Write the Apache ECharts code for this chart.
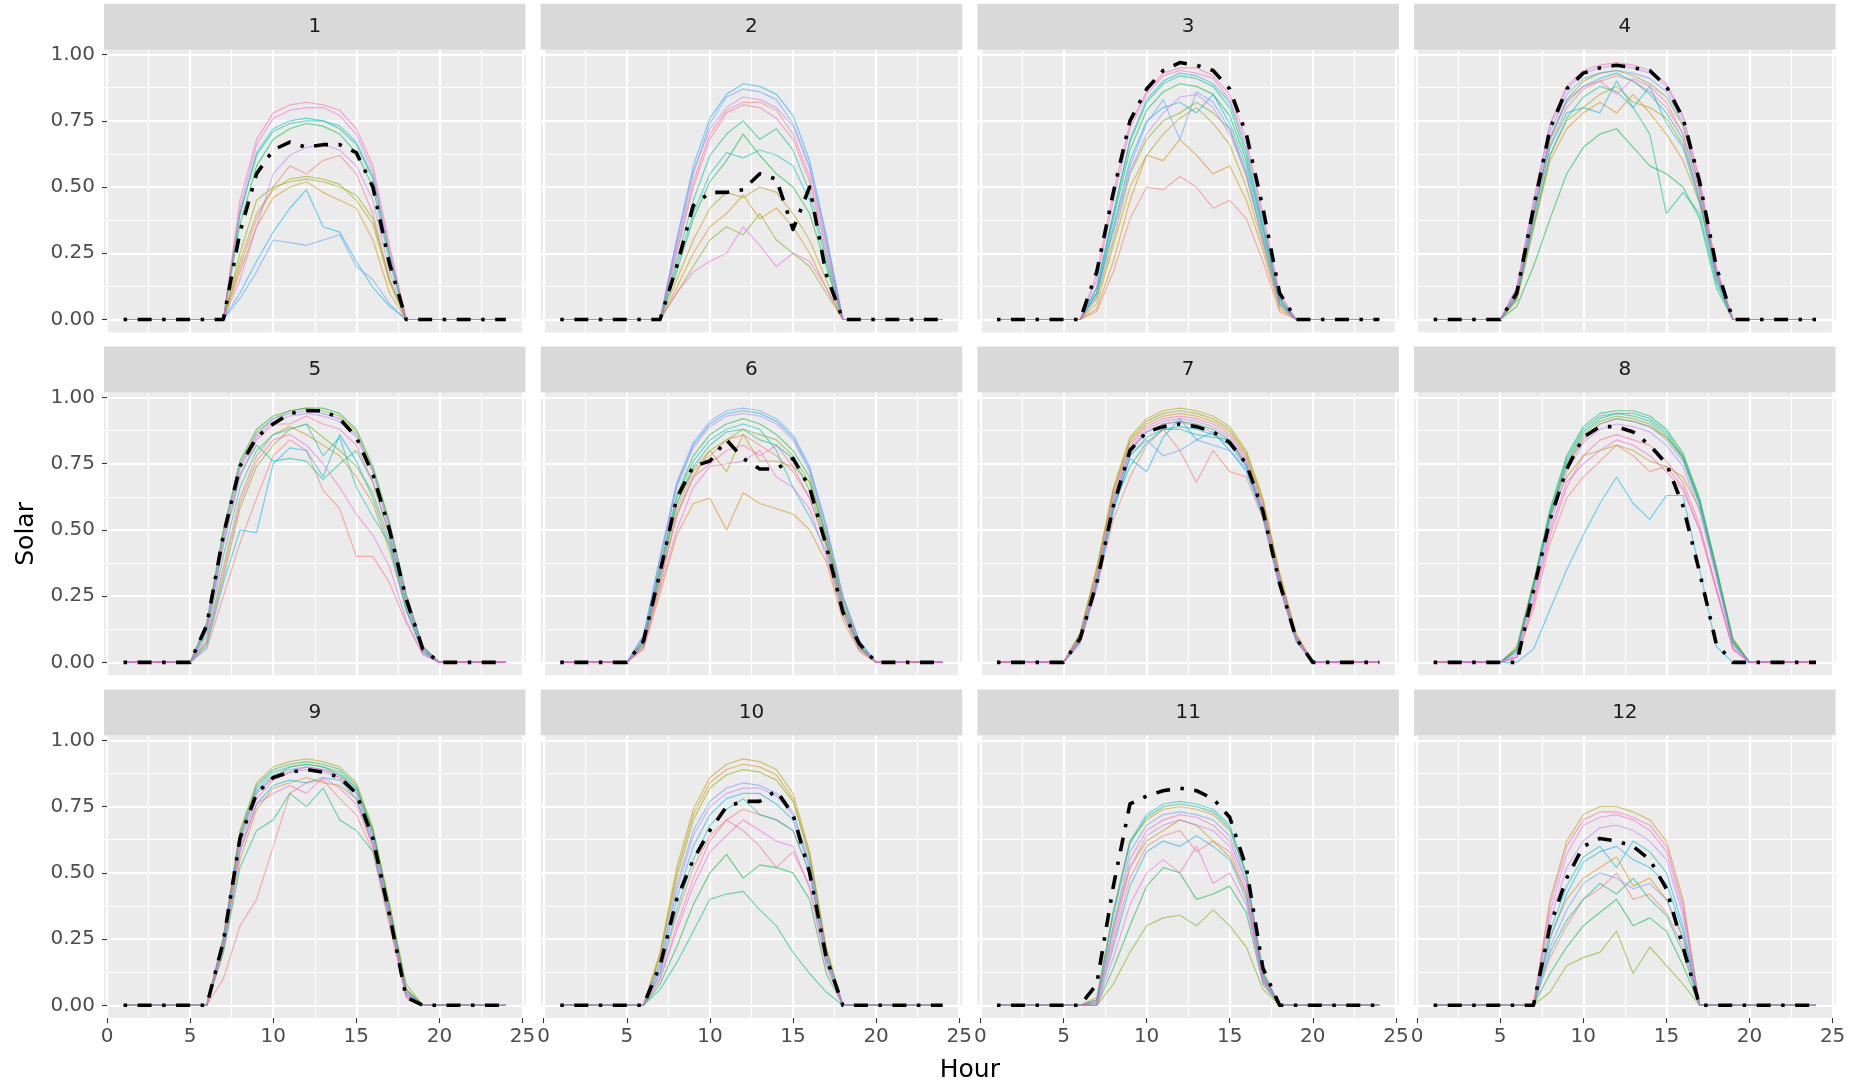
<!DOCTYPE html>
<html>
<head>
<meta charset="utf-8">
<title>Solar by hour, per month</title>
<script src="https://cdn.jsdelivr.net/npm/echarts/dist/echarts.min.js"></script>
<style>
	html, body { margin: 0; padding: 0; background: #ffffff; }
	#chart { width: 1854px; height: 1086px; }
</style>
</head>
<body>
<div id="chart"></div>
<script>
// facet labels and the hour axis
var months = ["1", "2", "3", "4", "5", "6", "7", "8", "9", "10", "11", "12"];
var hours = [1, 2, 3, 4, 5, 6, 7, 8, 9, 10, 11, 12, 13, 14, 15, 16, 17, 18, 19, 20, 21, 22, 23, 24];
var xTicks = [0, 5, 10, 15, 20, 25];
var yTicks = [0, 0.25, 0.5, 0.75, 1];

// first hour of the daylight stretch stored below, per month (solar is 0 outside it)
var dayStart = [7, 7, 6, 5, 5, 5, 5, 5, 6, 6, 6, 7];

// dash-dot line: monthly mean profile
var meanJan = [0, 0.33, 0.55, 0.64, 0.67, 0.65, 0.66, 0.66, 0.63, 0.50, 0.21, 0];
var meanFeb = [0, 0.20, 0.43, 0.48, 0.48, 0.49, 0.55, 0.53, 0.34, 0.50, 0.17, 0];
var meanMar = [0, 0.18, 0.48, 0.75, 0.87, 0.94, 0.97, 0.96, 0.94, 0.87, 0.70, 0.42, 0.10, 0];
var meanApr = [0, 0.10, 0.42, 0.72, 0.87, 0.93, 0.95, 0.96, 0.95, 0.94, 0.88, 0.76, 0.52, 0.20, 0];
var meanMay = [0, 0.14, 0.48, 0.74, 0.85, 0.90, 0.94, 0.95, 0.95, 0.92, 0.85, 0.71, 0.50, 0.24, 0.05, 0];
var meanJun = [0, 0.08, 0.34, 0.62, 0.74, 0.76, 0.84, 0.77, 0.73, 0.73, 0.77, 0.66, 0.44, 0.19, 0.07, 0];
var meanJul = [0, 0.09, 0.30, 0.59, 0.80, 0.87, 0.89, 0.90, 0.89, 0.87, 0.83, 0.75, 0.57, 0.30, 0.09, 0];
var meanAug = [0, 0, 0.27, 0.54, 0.73, 0.85, 0.89, 0.89, 0.87, 0.82, 0.75, 0.59, 0.34, 0.07, 0, 0];
var meanSep = [0, 0.24, 0.63, 0.80, 0.86, 0.88, 0.89, 0.88, 0.86, 0.80, 0.63, 0.34, 0.03, 0];
var meanOct = [0, 0.15, 0.40, 0.55, 0.66, 0.75, 0.77, 0.77, 0.81, 0.72, 0.50, 0.18, 0];
var meanNov = [0, 0.08, 0.45, 0.76, 0.79, 0.81, 0.82, 0.81, 0.78, 0.71, 0.52, 0.14, 0];
var meanDec = [0, 0.30, 0.48, 0.60, 0.63, 0.62, 0.60, 0.55, 0.44, 0.22, 0];

// thin lines: one profile per year, same year order in every month
var yearsJan = [
	[0, 0.20, 0.38, 0.50, 0.58, 0.55, 0.60, 0.62, 0.55, 0.40, 0.15, 0],
	[0, 0.18, 0.35, 0.46, 0.50, 0.52, 0.48, 0.45, 0.42, 0.30, 0.10, 0],
	[0, 0.22, 0.40, 0.49, 0.53, 0.54, 0.53, 0.51, 0.45, 0.36, 0.14, 0],
	[0, 0.25, 0.45, 0.50, 0.52, 0.53, 0.52, 0.50, 0.47, 0.38, 0.15, 0],
	[0, 0.36, 0.58, 0.68, 0.72, 0.74, 0.73, 0.70, 0.63, 0.50, 0.22, 0],
	[0, 0.40, 0.62, 0.71, 0.74, 0.75, 0.75, 0.72, 0.66, 0.53, 0.24, 0],
	[0, 0.40, 0.63, 0.72, 0.75, 0.76, 0.75, 0.73, 0.67, 0.54, 0.25, 0],
	[0, 0.10, 0.22, 0.33, 0.42, 0.49, 0.35, 0.33, 0.22, 0.12, 0.05, 0],
	[0, 0.08, 0.18, 0.30, 0.29, 0.28, 0.30, 0.32, 0.20, 0.15, 0.06, 0],
	[0, 0.15, 0.35, 0.55, 0.62, 0.65, 0.66, 0.64, 0.58, 0.45, 0.18, 0],
	[0, 0.42, 0.66, 0.76, 0.79, 0.80, 0.80, 0.77, 0.70, 0.56, 0.26, 0],
	[0, 0.45, 0.68, 0.78, 0.81, 0.82, 0.81, 0.79, 0.72, 0.58, 0.28, 0]
];
var yearsFeb = [
	[0, 0.26, 0.52, 0.70, 0.79, 0.82, 0.82, 0.79, 0.70, 0.54, 0.28, 0],
	[0, 0.12, 0.25, 0.35, 0.40, 0.47, 0.38, 0.42, 0.35, 0.25, 0.12, 0],
	[0, 0.15, 0.30, 0.42, 0.48, 0.46, 0.50, 0.48, 0.40, 0.30, 0.15, 0],
	[0, 0.10, 0.20, 0.30, 0.35, 0.32, 0.40, 0.30, 0.25, 0.20, 0.10, 0],
	[0, 0.18, 0.38, 0.52, 0.60, 0.70, 0.62, 0.55, 0.50, 0.40, 0.20, 0],
	[0, 0.22, 0.45, 0.62, 0.70, 0.75, 0.68, 0.72, 0.64, 0.48, 0.24, 0],
	[0, 0.20, 0.40, 0.55, 0.63, 0.61, 0.64, 0.62, 0.58, 0.45, 0.22, 0],
	[0, 0.30, 0.58, 0.76, 0.85, 0.89, 0.88, 0.85, 0.77, 0.60, 0.32, 0],
	[0, 0.28, 0.55, 0.74, 0.84, 0.87, 0.86, 0.83, 0.74, 0.58, 0.30, 0],
	[0, 0.30, 0.56, 0.72, 0.80, 0.84, 0.83, 0.80, 0.73, 0.57, 0.30, 0],
	[0, 0.10, 0.18, 0.22, 0.25, 0.35, 0.28, 0.20, 0.25, 0.22, 0.12, 0],
	[0, 0.25, 0.50, 0.68, 0.78, 0.81, 0.80, 0.76, 0.68, 0.52, 0.26, 0]
];
var yearsMar = [
	[0, 0.03, 0.18, 0.38, 0.50, 0.49, 0.54, 0.50, 0.42, 0.45, 0.38, 0.22, 0.03, 0],
	[0, 0.04, 0.22, 0.45, 0.62, 0.60, 0.68, 0.62, 0.55, 0.58, 0.45, 0.26, 0.04, 0],
	[0, 0.06, 0.28, 0.50, 0.62, 0.70, 0.76, 0.80, 0.74, 0.66, 0.50, 0.28, 0.05, 0],
	[0, 0.08, 0.30, 0.55, 0.68, 0.75, 0.78, 0.82, 0.78, 0.72, 0.54, 0.30, 0.06, 0],
	[0, 0.10, 0.38, 0.64, 0.79, 0.86, 0.89, 0.88, 0.85, 0.77, 0.60, 0.34, 0.07, 0],
	[0, 0.12, 0.40, 0.67, 0.82, 0.89, 0.92, 0.91, 0.88, 0.80, 0.62, 0.35, 0.08, 0],
	[0, 0.12, 0.40, 0.68, 0.83, 0.90, 0.93, 0.92, 0.89, 0.82, 0.64, 0.36, 0.08, 0],
	[0, 0.10, 0.35, 0.60, 0.75, 0.80, 0.82, 0.78, 0.85, 0.74, 0.58, 0.32, 0.06, 0],
	[0, 0.10, 0.34, 0.58, 0.74, 0.83, 0.68, 0.86, 0.82, 0.72, 0.56, 0.30, 0.06, 0],
	[0, 0.09, 0.33, 0.56, 0.70, 0.78, 0.84, 0.85, 0.80, 0.70, 0.55, 0.30, 0.06, 0],
	[0, 0.15, 0.45, 0.72, 0.85, 0.92, 0.94, 0.93, 0.91, 0.83, 0.66, 0.38, 0.09, 0],
	[0, 0.17, 0.48, 0.74, 0.86, 0.93, 0.95, 0.95, 0.92, 0.85, 0.68, 0.40, 0.10, 0]
];
var yearsApr = [
	[0, 0.08, 0.38, 0.66, 0.80, 0.87, 0.90, 0.92, 0.90, 0.86, 0.80, 0.70, 0.48, 0.18, 0],
	[0, 0.07, 0.34, 0.60, 0.72, 0.78, 0.82, 0.78, 0.85, 0.78, 0.70, 0.60, 0.44, 0.18, 0],
	[0, 0.08, 0.36, 0.62, 0.75, 0.80, 0.85, 0.88, 0.82, 0.80, 0.76, 0.66, 0.46, 0.17, 0],
	[0, 0.09, 0.40, 0.68, 0.83, 0.90, 0.93, 0.94, 0.92, 0.89, 0.84, 0.73, 0.50, 0.19, 0],
	[0, 0.05, 0.20, 0.38, 0.55, 0.65, 0.70, 0.72, 0.65, 0.58, 0.55, 0.50, 0.38, 0.12, 0],
	[0, 0.08, 0.35, 0.62, 0.76, 0.84, 0.88, 0.86, 0.80, 0.70, 0.40, 0.48, 0.40, 0.14, 0],
	[0, 0.10, 0.40, 0.68, 0.82, 0.88, 0.91, 0.93, 0.90, 0.85, 0.78, 0.68, 0.45, 0.16, 0],
	[0, 0.09, 0.38, 0.65, 0.78, 0.80, 0.78, 0.90, 0.80, 0.88, 0.74, 0.65, 0.44, 0.15, 0],
	[0, 0.11, 0.42, 0.71, 0.85, 0.91, 0.93, 0.94, 0.93, 0.91, 0.86, 0.74, 0.50, 0.18, 0],
	[0, 0.12, 0.44, 0.73, 0.87, 0.93, 0.95, 0.96, 0.95, 0.93, 0.88, 0.76, 0.52, 0.19, 0],
	[0, 0.10, 0.40, 0.69, 0.83, 0.88, 0.90, 0.85, 0.91, 0.88, 0.82, 0.70, 0.48, 0.17, 0],
	[0, 0.12, 0.45, 0.74, 0.88, 0.94, 0.96, 0.97, 0.96, 0.94, 0.89, 0.77, 0.53, 0.20, 0]
];
var yearsMay = [
	[0, 0.05, 0.25, 0.45, 0.62, 0.78, 0.84, 0.80, 0.65, 0.58, 0.40, 0.40, 0.30, 0.15, 0.03, 0],
	[0, 0.08, 0.36, 0.62, 0.78, 0.86, 0.89, 0.86, 0.82, 0.78, 0.70, 0.60, 0.42, 0.20, 0.04, 0],
	[0, 0.14, 0.49, 0.75, 0.87, 0.92, 0.95, 0.96, 0.95, 0.93, 0.87, 0.73, 0.52, 0.25, 0.06, 0],
	[0, 0.07, 0.32, 0.58, 0.74, 0.82, 0.88, 0.90, 0.85, 0.80, 0.74, 0.64, 0.46, 0.22, 0.05, 0],
	[0, 0.15, 0.50, 0.76, 0.88, 0.93, 0.95, 0.96, 0.96, 0.94, 0.88, 0.74, 0.53, 0.26, 0.06, 0],
	[0, 0.12, 0.45, 0.71, 0.82, 0.76, 0.77, 0.76, 0.69, 0.75, 0.80, 0.68, 0.48, 0.23, 0.05, 0],
	[0, 0.10, 0.40, 0.66, 0.80, 0.86, 0.88, 0.90, 0.78, 0.85, 0.66, 0.55, 0.45, 0.20, 0.04, 0],
	[0, 0.06, 0.30, 0.50, 0.49, 0.75, 0.81, 0.80, 0.70, 0.86, 0.76, 0.62, 0.44, 0.20, 0.04, 0],
	[0, 0.14, 0.48, 0.74, 0.86, 0.92, 0.94, 0.95, 0.94, 0.92, 0.86, 0.72, 0.51, 0.25, 0.06, 0],
	[0, 0.13, 0.47, 0.73, 0.85, 0.91, 0.93, 0.94, 0.93, 0.91, 0.85, 0.72, 0.50, 0.24, 0.05, 0],
	[0, 0.08, 0.34, 0.60, 0.76, 0.84, 0.86, 0.82, 0.75, 0.66, 0.56, 0.48, 0.36, 0.16, 0.03, 0],
	[0, 0.12, 0.44, 0.70, 0.84, 0.90, 0.90, 0.93, 0.90, 0.88, 0.82, 0.68, 0.48, 0.22, 0.05, 0]
];
var yearsJun = [
	[0, 0.07, 0.32, 0.58, 0.72, 0.78, 0.84, 0.86, 0.82, 0.78, 0.72, 0.62, 0.44, 0.20, 0.05, 0],
	[0, 0.05, 0.26, 0.48, 0.60, 0.62, 0.50, 0.64, 0.60, 0.58, 0.56, 0.50, 0.38, 0.16, 0.04, 0],
	[0, 0.08, 0.34, 0.60, 0.73, 0.80, 0.72, 0.86, 0.76, 0.76, 0.74, 0.68, 0.48, 0.24, 0.07, 0],
	[0, 0.06, 0.30, 0.56, 0.70, 0.80, 0.84, 0.88, 0.86, 0.84, 0.78, 0.68, 0.46, 0.22, 0.06, 0],
	[0, 0.08, 0.36, 0.63, 0.78, 0.86, 0.90, 0.92, 0.90, 0.86, 0.80, 0.70, 0.48, 0.22, 0.06, 0],
	[0, 0.07, 0.33, 0.60, 0.74, 0.82, 0.87, 0.88, 0.84, 0.82, 0.77, 0.65, 0.45, 0.20, 0.06, 0],
	[0, 0.08, 0.35, 0.62, 0.76, 0.84, 0.88, 0.90, 0.88, 0.80, 0.66, 0.55, 0.42, 0.18, 0.05, 0],
	[0, 0.10, 0.39, 0.67, 0.82, 0.90, 0.94, 0.95, 0.94, 0.91, 0.85, 0.73, 0.51, 0.25, 0.08, 0],
	[0, 0.10, 0.40, 0.68, 0.83, 0.91, 0.95, 0.96, 0.95, 0.92, 0.86, 0.74, 0.52, 0.25, 0.08, 0],
	[0, 0.09, 0.38, 0.66, 0.81, 0.89, 0.93, 0.94, 0.93, 0.90, 0.84, 0.72, 0.50, 0.24, 0.07, 0],
	[0, 0.05, 0.28, 0.50, 0.66, 0.74, 0.75, 0.76, 0.80, 0.70, 0.66, 0.58, 0.40, 0.18, 0.05, 0],
	[0, 0.06, 0.30, 0.55, 0.70, 0.75, 0.80, 0.82, 0.78, 0.82, 0.74, 0.62, 0.44, 0.20, 0.05, 0]
];
var yearsJul = [
	[0, 0.07, 0.28, 0.54, 0.70, 0.82, 0.88, 0.80, 0.68, 0.80, 0.72, 0.70, 0.54, 0.28, 0.08, 0],
	[0, 0.10, 0.34, 0.64, 0.83, 0.90, 0.93, 0.94, 0.93, 0.91, 0.87, 0.78, 0.60, 0.33, 0.10, 0],
	[0, 0.11, 0.36, 0.66, 0.85, 0.92, 0.95, 0.96, 0.95, 0.93, 0.89, 0.80, 0.62, 0.34, 0.11, 0],
	[0, 0.11, 0.35, 0.65, 0.84, 0.91, 0.94, 0.95, 0.94, 0.92, 0.88, 0.79, 0.61, 0.33, 0.10, 0],
	[0, 0.09, 0.31, 0.60, 0.80, 0.87, 0.90, 0.91, 0.90, 0.88, 0.84, 0.75, 0.57, 0.31, 0.09, 0],
	[0, 0.08, 0.30, 0.59, 0.74, 0.83, 0.88, 0.88, 0.86, 0.85, 0.84, 0.74, 0.56, 0.30, 0.09, 0],
	[0, 0.08, 0.30, 0.58, 0.78, 0.85, 0.88, 0.89, 0.88, 0.86, 0.82, 0.74, 0.56, 0.30, 0.09, 0],
	[0, 0.08, 0.29, 0.57, 0.77, 0.72, 0.85, 0.92, 0.84, 0.87, 0.80, 0.72, 0.55, 0.29, 0.08, 0],
	[0, 0.08, 0.30, 0.58, 0.78, 0.84, 0.78, 0.80, 0.84, 0.82, 0.80, 0.73, 0.56, 0.30, 0.09, 0],
	[0, 0.09, 0.32, 0.62, 0.81, 0.88, 0.91, 0.92, 0.91, 0.89, 0.85, 0.76, 0.58, 0.31, 0.09, 0],
	[0, 0.09, 0.31, 0.61, 0.80, 0.87, 0.90, 0.91, 0.89, 0.87, 0.83, 0.75, 0.57, 0.31, 0.09, 0],
	[0, 0.10, 0.33, 0.63, 0.82, 0.89, 0.92, 0.93, 0.92, 0.90, 0.86, 0.77, 0.59, 0.32, 0.10, 0]
];
var yearsAug = [
	[0, 0.02, 0.20, 0.45, 0.62, 0.70, 0.76, 0.82, 0.78, 0.72, 0.74, 0.66, 0.50, 0.27, 0.05, 0],
	[0, 0.06, 0.30, 0.56, 0.74, 0.84, 0.90, 0.92, 0.91, 0.89, 0.85, 0.77, 0.60, 0.35, 0.09, 0],
	[0, 0.05, 0.30, 0.55, 0.70, 0.78, 0.80, 0.82, 0.80, 0.76, 0.74, 0.70, 0.58, 0.34, 0.08, 0],
	[0, 0.05, 0.28, 0.55, 0.75, 0.86, 0.91, 0.93, 0.92, 0.90, 0.85, 0.78, 0.61, 0.36, 0.09, 0],
	[0, 0.05, 0.30, 0.58, 0.78, 0.89, 0.94, 0.95, 0.95, 0.93, 0.88, 0.79, 0.62, 0.36, 0.08, 0],
	[0, 0.04, 0.28, 0.56, 0.76, 0.87, 0.92, 0.94, 0.93, 0.91, 0.86, 0.77, 0.60, 0.34, 0.07, 0],
	[0, 0.05, 0.29, 0.57, 0.77, 0.88, 0.93, 0.94, 0.94, 0.92, 0.87, 0.78, 0.61, 0.35, 0.08, 0],
	[0, 0, 0.05, 0.20, 0.35, 0.48, 0.60, 0.70, 0.60, 0.54, 0.63, 0.63, 0.35, 0.06, 0, 0],
	[0, 0.04, 0.27, 0.54, 0.74, 0.85, 0.90, 0.92, 0.91, 0.89, 0.84, 0.76, 0.59, 0.33, 0.07, 0],
	[0, 0.03, 0.25, 0.52, 0.72, 0.83, 0.88, 0.90, 0.89, 0.87, 0.82, 0.74, 0.57, 0.32, 0.06, 0],
	[0, 0.02, 0.23, 0.50, 0.68, 0.75, 0.80, 0.84, 0.82, 0.78, 0.72, 0.65, 0.50, 0.28, 0.05, 0],
	[0, 0.02, 0.22, 0.48, 0.66, 0.78, 0.84, 0.86, 0.84, 0.82, 0.76, 0.68, 0.52, 0.28, 0.05, 0]
];
var yearsSep = [
	[0, 0.10, 0.30, 0.40, 0.60, 0.80, 0.84, 0.85, 0.78, 0.72, 0.58, 0.30, 0.03, 0],
	[0, 0.20, 0.55, 0.74, 0.82, 0.84, 0.86, 0.84, 0.83, 0.78, 0.60, 0.34, 0.06, 0],
	[0, 0.26, 0.66, 0.84, 0.90, 0.92, 0.93, 0.92, 0.90, 0.84, 0.67, 0.38, 0.06, 0],
	[0, 0.24, 0.63, 0.80, 0.86, 0.90, 0.91, 0.90, 0.87, 0.82, 0.66, 0.38, 0.08, 0],
	[0, 0.25, 0.65, 0.83, 0.89, 0.91, 0.92, 0.91, 0.89, 0.83, 0.66, 0.37, 0.06, 0],
	[0, 0.20, 0.52, 0.66, 0.70, 0.80, 0.75, 0.82, 0.70, 0.66, 0.58, 0.32, 0.04, 0],
	[0, 0.25, 0.64, 0.82, 0.88, 0.90, 0.91, 0.90, 0.88, 0.82, 0.65, 0.36, 0.05, 0],
	[0, 0.22, 0.58, 0.76, 0.83, 0.85, 0.84, 0.86, 0.85, 0.78, 0.61, 0.33, 0.04, 0],
	[0, 0.24, 0.63, 0.81, 0.87, 0.89, 0.90, 0.89, 0.87, 0.81, 0.64, 0.35, 0.05, 0],
	[0, 0.24, 0.62, 0.80, 0.86, 0.88, 0.89, 0.88, 0.86, 0.80, 0.63, 0.35, 0.04, 0],
	[0, 0.22, 0.58, 0.76, 0.80, 0.83, 0.80, 0.86, 0.82, 0.76, 0.60, 0.33, 0.04, 0],
	[0, 0.23, 0.60, 0.78, 0.85, 0.88, 0.90, 0.89, 0.86, 0.80, 0.62, 0.34, 0.03, 0]
];
var yearsOct = [
	[0, 0.12, 0.34, 0.52, 0.64, 0.70, 0.74, 0.72, 0.70, 0.66, 0.50, 0.18, 0],
	[0, 0.19, 0.50, 0.72, 0.84, 0.89, 0.91, 0.90, 0.87, 0.78, 0.57, 0.21, 0],
	[0, 0.20, 0.52, 0.74, 0.86, 0.91, 0.93, 0.92, 0.89, 0.80, 0.58, 0.22, 0],
	[0, 0.18, 0.48, 0.70, 0.82, 0.87, 0.89, 0.88, 0.85, 0.77, 0.56, 0.21, 0],
	[0, 0.08, 0.22, 0.38, 0.50, 0.57, 0.48, 0.53, 0.52, 0.50, 0.40, 0.12, 0],
	[0, 0.06, 0.16, 0.28, 0.40, 0.42, 0.43, 0.36, 0.30, 0.20, 0.12, 0.05, 0],
	[0, 0.12, 0.36, 0.55, 0.68, 0.74, 0.78, 0.72, 0.70, 0.66, 0.50, 0.17, 0],
	[0, 0.14, 0.40, 0.60, 0.72, 0.78, 0.80, 0.80, 0.76, 0.70, 0.52, 0.18, 0],
	[0, 0.16, 0.45, 0.66, 0.77, 0.82, 0.84, 0.83, 0.80, 0.73, 0.54, 0.20, 0],
	[0, 0.15, 0.43, 0.64, 0.75, 0.80, 0.82, 0.82, 0.79, 0.72, 0.53, 0.19, 0],
	[0, 0.10, 0.28, 0.45, 0.58, 0.64, 0.70, 0.66, 0.62, 0.60, 0.44, 0.15, 0],
	[0, 0.10, 0.30, 0.48, 0.62, 0.70, 0.66, 0.60, 0.52, 0.58, 0.45, 0.15, 0]
];
var yearsNov = [
	[0, 0.01, 0.24, 0.48, 0.60, 0.64, 0.66, 0.58, 0.62, 0.58, 0.42, 0.10, 0],
	[0, 0.03, 0.36, 0.62, 0.70, 0.74, 0.75, 0.74, 0.72, 0.66, 0.50, 0.13, 0],
	[0, 0.02, 0.30, 0.52, 0.62, 0.66, 0.70, 0.68, 0.62, 0.56, 0.42, 0.11, 0],
	[0, 0, 0.08, 0.20, 0.30, 0.33, 0.34, 0.30, 0.36, 0.30, 0.22, 0.06, 0],
	[0, 0, 0.14, 0.30, 0.45, 0.52, 0.50, 0.40, 0.42, 0.45, 0.35, 0.08, 0],
	[0, 0.02, 0.34, 0.61, 0.71, 0.75, 0.76, 0.75, 0.73, 0.67, 0.49, 0.12, 0],
	[0, 0.02, 0.35, 0.62, 0.72, 0.76, 0.77, 0.76, 0.74, 0.68, 0.50, 0.12, 0],
	[0, 0, 0.22, 0.45, 0.58, 0.62, 0.60, 0.64, 0.60, 0.55, 0.40, 0.09, 0],
	[0, 0.01, 0.30, 0.58, 0.68, 0.72, 0.73, 0.72, 0.70, 0.64, 0.47, 0.11, 0],
	[0, 0.01, 0.26, 0.52, 0.64, 0.68, 0.70, 0.68, 0.66, 0.60, 0.44, 0.10, 0],
	[0, 0, 0.18, 0.38, 0.50, 0.55, 0.50, 0.60, 0.46, 0.50, 0.38, 0.09, 0],
	[0, 0.01, 0.28, 0.55, 0.66, 0.70, 0.72, 0.71, 0.68, 0.62, 0.46, 0.10, 0]
];
var yearsDec = [
	[0, 0.18, 0.30, 0.40, 0.44, 0.50, 0.40, 0.42, 0.35, 0.22, 0],
	[0, 0.26, 0.40, 0.48, 0.52, 0.56, 0.45, 0.48, 0.40, 0.26, 0],
	[0, 0.40, 0.62, 0.72, 0.75, 0.75, 0.73, 0.70, 0.62, 0.40, 0],
	[0, 0.05, 0.15, 0.18, 0.20, 0.28, 0.12, 0.22, 0.15, 0.08, 0],
	[0, 0.12, 0.22, 0.30, 0.35, 0.40, 0.30, 0.33, 0.28, 0.15, 0],
	[0, 0.20, 0.32, 0.40, 0.46, 0.42, 0.48, 0.40, 0.34, 0.20, 0],
	[0, 0.28, 0.45, 0.56, 0.60, 0.52, 0.62, 0.58, 0.50, 0.30, 0],
	[0, 0.25, 0.42, 0.54, 0.58, 0.60, 0.55, 0.52, 0.46, 0.28, 0],
	[0, 0.22, 0.36, 0.46, 0.50, 0.48, 0.44, 0.46, 0.40, 0.25, 0],
	[0, 0.32, 0.52, 0.62, 0.67, 0.68, 0.66, 0.62, 0.55, 0.34, 0],
	[0, 0.35, 0.57, 0.68, 0.71, 0.72, 0.70, 0.66, 0.58, 0.36, 0],
	[0, 0.38, 0.60, 0.70, 0.73, 0.73, 0.71, 0.68, 0.60, 0.38, 0]
];

var monthMeans = [meanJan, meanFeb, meanMar, meanApr, meanMay, meanJun, meanJul, meanAug, meanSep, meanOct, meanNov, meanDec];
var monthYears = [yearsJan, yearsFeb, yearsMar, yearsApr, yearsMay, yearsJun, yearsJul, yearsAug, yearsSep, yearsOct, yearsNov, yearsDec];

// ggplot default hue palette, 12 levels
var yearColors = ["#F8766D", "#DE8C00", "#B79F00", "#7CAE00", "#00BA38", "#00C08B",
	"#00BFC4", "#00B4F0", "#619CFF", "#C77CFF", "#F564E3", "#FF64B0"];

// layout of the facet panels (pixels)
var colLeft = [104, 540.7, 977.4, 1414.1];
var rowTop = [49.7, 392.6, 735.5];
var panelW = 421.5;
var panelH = 282.6;
var stripH = 46;
var xPad = 3;        // distance from panel edge to hour 0
var yPadTop = 4.9;   // distance from panel top to solar 1.00
var yUnitH = 264.9;  // height of solar 0..1
var fontName = "DejaVu Sans";
var tickFont = 20;

// full 24 h day from the daylight stretch
function fullDay(seg, start) {
	return hours.map(function(h) {
		var i = h - start;
		return [h, (i >= 0 && i < seg.length) ? seg[i] : 0];
	});
}

var grids = [];
var xAxes = [];
var yAxes = [];
var series = [];
var graphics = [];

for (var m = 0; m < months.length; m++) {
	var col = m % 4;
	var row = Math.floor(m / 4);
	var L = colLeft[col];
	var T = rowTop[row];

	// data grid: solar 0..1 across the panel width, carries the horizontal grid lines
	grids.push({
		left: L, top: T + yPadTop, width: panelW, height: yUnitH,
		show: true, backgroundColor: "#EBEBEB", borderWidth: 0
	});
	// helper grid: hours 0..25 over the full panel height, carries the vertical grid lines
	grids.push({
		left: L + xPad, top: T, width: panelW - 2 * xPad, height: panelH,
		show: true, backgroundColor: "#EBEBEB", borderWidth: 0
	});

	var dIdx = 2 * m;
	var vIdx = 2 * m + 1;

	xAxes.push({
		gridIndex: dIdx, type: "value",
		min: -xPad / ((panelW - 2 * xPad) / 25),
		max: 25 + xPad / ((panelW - 2 * xPad) / 25),
		show: false
	});
	xAxes.push({
		gridIndex: vIdx, type: "value", min: xTicks[0], max: xTicks[xTicks.length - 1], interval: 5,
		axisLine: { show: false },
		axisTick: { show: row == 2, length: 5, lineStyle: { color: "#333333", width: 1.1 } },
		axisLabel: {
			show: row == 2, color: "#4D4D4D", fontSize: tickFont, fontFamily: fontName, margin: 9,
			showMinLabel: true, showMaxLabel: true, hideOverlap: false
		},
		splitLine: { show: true, lineStyle: { color: "#FFFFFF", width: 2.2 } },
		minorTick: { show: false, splitNumber: 2 },
		minorSplitLine: { show: true, lineStyle: { color: "#FFFFFF", width: 1.1 } }
	});

	yAxes.push({
		gridIndex: dIdx, type: "value", min: yTicks[0], max: yTicks[yTicks.length - 1], interval: 0.25,
		axisLine: { show: false },
		axisTick: { show: col == 0, length: 5, lineStyle: { color: "#333333", width: 1.1 } },
		axisLabel: {
			show: col == 0, color: "#4D4D4D", fontSize: tickFont, fontFamily: fontName, margin: 9,
			formatter: function(v) { return v.toFixed(2); }
		},
		splitLine: { show: true, lineStyle: { color: "#FFFFFF", width: 2.2 } },
		minorTick: { show: false, splitNumber: 2 },
		minorSplitLine: { show: true, lineStyle: { color: "#FFFFFF", width: 1.1 } }
	});
	yAxes.push({ gridIndex: vIdx, type: "value", min: 0, max: 1, show: false });

	var lines = monthYears[m];
	for (var y = 0; y < lines.length; y++) {
		series.push({
			type: "line",
			xAxisIndex: dIdx, yAxisIndex: dIdx,
			data: fullDay(lines[y], dayStart[m]),
			showSymbol: false, symbol: "none", silent: true, clip: false,
			lineStyle: { color: yearColors[y], width: 1.2, opacity: 0.55, join: "round" },
			z: 2
		});
	}
	series.push({
		type: "line",
		xAxisIndex: dIdx, yAxisIndex: dIdx,
		data: fullDay(monthMeans[m], dayStart[m]),
		showSymbol: false, symbol: "none", silent: true, clip: false,
		lineStyle: { color: "#000000", width: 3.6, type: [3.5, 10.5, 14, 10.5], cap: "butt", join: "round" },
		z: 3
	});

	// facet strip
	graphics.push({
		type: "rect", silent: true,
		shape: { x: L, y: T - stripH, width: panelW, height: stripH },
		style: { fill: "#D9D9D9" }
	});
	graphics.push({
		type: "text", silent: true,
		x: L + panelW / 2, y: T - stripH / 2,
		style: {
			text: months[m], fill: "#1A1A1A", font: tickFont + "px '" + fontName + "'",
			textAlign: "center", textVerticalAlign: "middle"
		}
	});
}

// axis titles
graphics.push({
	type: "text", silent: true,
	x: (colLeft[0] + colLeft[3] + panelW) / 2, y: 1070,
	style: { text: "Hour", fill: "#000000", font: "25px '" + fontName + "'", textAlign: "center", textVerticalAlign: "middle" }
});
graphics.push({
	type: "text", silent: true,
	x: 26, y: (rowTop[0] + rowTop[2] + panelH) / 2, rotation: Math.PI / 2,
	style: { text: "Solar", fill: "#000000", font: "25px '" + fontName + "'", textAlign: "center", textVerticalAlign: "middle" }
});

var chart = echarts.init(document.getElementById("chart"), null, { renderer: "canvas" });
var option = {
	backgroundColor: "#FFFFFF",
	animation: false,
	grid: grids,
	xAxis: xAxes,
	yAxis: yAxes,
	series: series,
	graphic: { elements: graphics }
};
chart.setOption(option);
</script>
</body>
</html>
